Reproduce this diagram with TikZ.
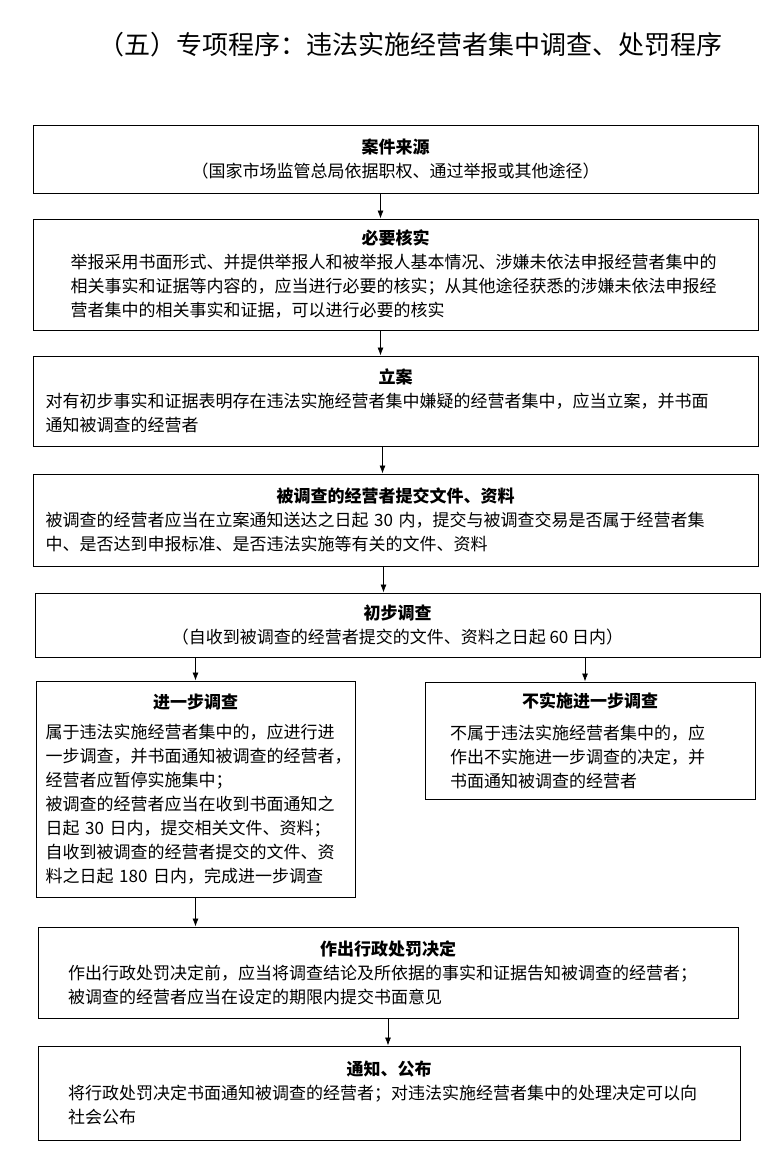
\documentclass[tikz,border=0pt]{standalone}
\usepackage{fontspec}
\setmainfont{Noto Sans CJK SC}
\usetikzlibrary{arrows.meta,shadows}

\newcommand{\steptitle}[1]{{\centering\bfseries #1\par}}

\begin{document}
\begin{tikzpicture}[x=1pt,y=-1pt,
	stepbox/.style={draw,line width=0.9pt,fill=white,inner sep=3pt,
		drop shadow={shadow xshift=1.3pt,shadow yshift=-1.3pt,opacity=1,fill=black},
		font=\fontsize{17}{24}\selectfont},
	flow/.style={-{Latex[length=8pt,width=6pt]},line width=0.8pt}]
	\useasboundingbox (0,0) rectangle (776,1154);

	\node[font=\fontsize{26}{30}\selectfont] (title) at (410,45)
		{（五）专项程序：违法实施经营者集中调查、处罚程序};

	\node[stepbox,minimum width=725pt,minimum height=68pt,align=center] (source) at (395.5,159)
		{\textbf{案件来源}\\（国家市场监管总局依据职权、通过举报或其他途径）};

	\node[stepbox,minimum width=725pt,minimum height=111pt,text width=650pt,align=left] (check) at (395.5,274.5)
		{\steptitle{必要核实}
		举报采用书面形式、并提供举报人和被举报人基本情况、涉嫌未依法申报经营者集中的\\
		相关事实和证据等内容的，应当进行必要的核实；从其他途径获悉的涉嫌未依法申报经\\
		营者集中的相关事实和证据，可以进行必要的核实};

	\node[stepbox,minimum width=725pt,minimum height=90pt,text width=700pt,align=left] (filing) at (395.5,401)
		{\steptitle{立案}
		对有初步事实和证据表明存在违法实施经营者集中嫌疑的经营者集中，应当立案，并书面\\
		通知被调查的经营者};

	\node[stepbox,minimum width=725pt,minimum height=92pt,text width=700pt,align=left] (submit) at (395.5,520)
		{\steptitle{被调查的经营者提交文件、资料}
		被调查的经营者应当在立案通知送达之日起 30 内，提交与被调查交易是否属于经营者集\\
		中、是否达到申报标准、是否违法实施等有关的文件、资料};

	\node[stepbox,minimum width=725pt,minimum height=64pt,align=center] (prelim) at (397.5,625)
		{\textbf{初步调查}\\（自收到被调查的经营者提交的文件、资料之日起 60 日内）};

	\node[stepbox,minimum width=319pt,minimum height=216pt,text width=300pt,align=left] (further) at (195.5,789)
		{\steptitle{进一步调查}\vspace{6pt}
		属于违法实施经营者集中的，应进行进\\
		一步调查，并书面通知被调查的经营者，\\
		经营者应暂停实施集中；\\
		被调查的经营者应当在收到书面通知之\\
		日起 30 日内，提交相关文件、资料；\\
		自收到被调查的经营者提交的文件、资\\
		料之日起 180 日内，完成进一步调查};

	\node[stepbox,minimum width=330pt,minimum height=117pt,text width=280pt,align=left] (nofurther) at (590,740.5)
		{\steptitle{不实施进一步调查}\vspace{8pt}
		不属于违法实施经营者集中的，应\\
		作出不实施进一步调查的决定，并\\
		书面通知被调查的经营者};

	\node[stepbox,minimum width=700pt,minimum height=91pt,text width=640pt,align=left] (penalty) at (388,972.5)
		{\steptitle{作出行政处罚决定}
		作出行政处罚决定前，应当将调查结论及所依据的事实和证据告知被调查的经营者；\\
		被调查的经营者应当在设定的期限内提交书面意见};

	\node[stepbox,minimum width=702pt,minimum height=94pt,text width=642pt,align=left] (notice) at (389,1093)
		{\steptitle{通知、公布}
		将行政处罚决定书面通知被调查的经营者；对违法实施经营者集中的处理决定可以向\\
		社会公布};

	% arrows
	\draw[flow] ([xshift=-15pt]source.south) -- ([xshift=-15pt]source.south |- check.north);
	\draw[flow] ([xshift=-15pt]check.south) -- ([xshift=-15pt]check.south |- filing.north);
	\draw[flow] ([xshift=-13pt]filing.south) -- ([xshift=-13pt]filing.south |- submit.north);
	\draw[flow] ([xshift=-12pt]submit.south) -- ([xshift=-12pt]submit.south |- prelim.north);
	\draw[flow] (further.north |- prelim.south) -- (further.north);
	\draw[flow] ([xshift=-5pt]nofurther.north |- prelim.south) -- ([xshift=-5pt]nofurther.north);
	\draw[flow] (further.south) -- (further.south |- penalty.north);
	\draw[flow] (penalty.south) -- (penalty.south |- notice.north);
\end{tikzpicture}
\end{document}
